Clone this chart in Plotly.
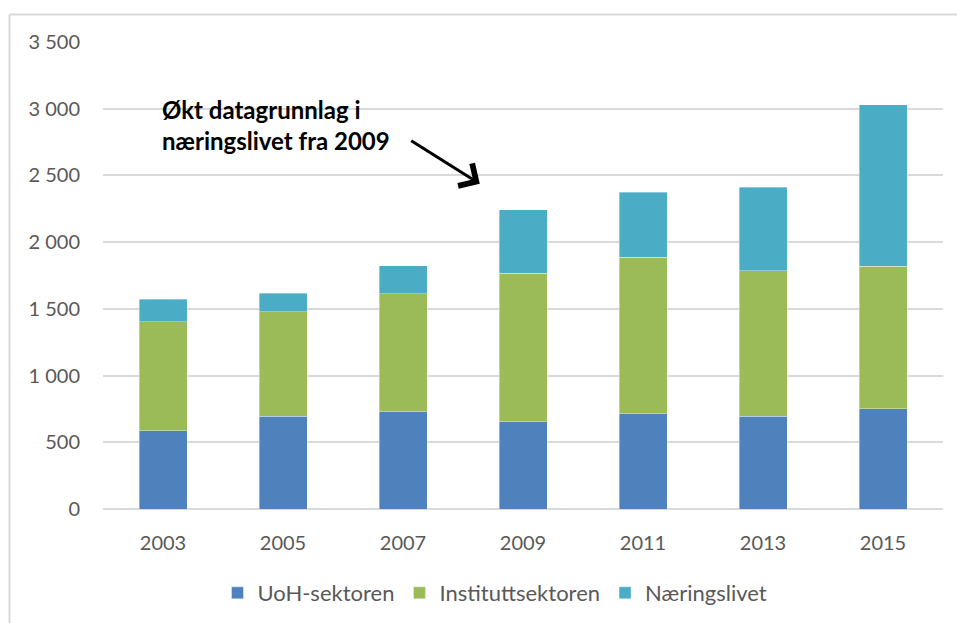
import plotly.graph_objects as go

# Survey years and the three sectors (stacked)
years = ["2003", "2005", "2007", "2009", "2011", "2013", "2015"]
uoh = [587, 695, 730, 655, 715, 695, 750]
institutt = [818, 785, 882, 1113, 1173, 1090, 1068]
naering = [168, 138, 211, 475, 487, 628, 1212]

y_ticks = [0, 500, 1000, 1500, 2000, 2500, 3000, 3500]
y_tick_text = ["0", "500", "1 000", "1 500", "2 000", "2 500", "3 000", "3 500"]

W, H = 957, 623
ML, MR, MT, MB = 103, 14, 42, 114

fig = go.Figure()
series = [
    ("UoH-sektoren", uoh, "#4F81BD"),
    ("Instituttsektoren", institutt, "#9BBB59"),
    ("Næringslivet", naering, "#4BACC6"),
]
for name, vals, color in series:
    fig.add_trace(go.Bar(
        x=years, y=vals, name=name,
        marker=dict(color=color, line=dict(color="rgba(255,255,255,0.6)", width=0.6)),
        width=0.4,
    ))

font_family = "Lato, 'Open Sans', sans-serif"

# Callout text and arrow pointing at the 2009 bar
fig.add_annotation(
    x=(160 - ML) / (W - ML - MR), xref="paper", xanchor="left",
    y=2880, yref="y", yanchor="middle",
    text="<b>Økt datagrunnlag i<br>næringslivet fra 2009</b>",
    showarrow=False, align="left",
    font=dict(family=font_family, size=24, color="#000000"),
)
fig.add_annotation(
    x=2.64, xref="x", y=2437, yref="y",
    ax=-70, ay=-44, axref="pixel", ayref="pixel",
    showarrow=True, arrowhead=4, arrowsize=1.7, arrowwidth=3, arrowcolor="#000000",
    text="",
)

# Chart frame (top and left edges)
fx0 = (9.5 - ML) / (W - ML - MR)
fx1 = (W + 5 - ML) / (W - ML - MR)
fy_top = (H - MB - 14.5) / (H - MT - MB)
fy_bot = (H - MB - H - 5) / (H - MT - MB)
fig.add_shape(type="line", xref="paper", yref="paper",
              x0=fx0, x1=fx1, y0=fy_top, y1=fy_top,
              line=dict(color="#d9d9d9", width=2))
fig.add_shape(type="line", xref="paper", yref="paper",
              x0=fx0, x1=fx0, y0=fy_top, y1=fy_bot,
              line=dict(color="#d9d9d9", width=2))

fig.update_layout(
    width=W, height=H,
    margin=dict(l=ML, r=MR, t=MT, b=MB, pad=0, autoexpand=False),
    barmode="stack",
    paper_bgcolor="white", plot_bgcolor="white",
    font=dict(family=font_family, size=20, color="#595959"),
    showlegend=True,
    legend=dict(
        orientation="h",
        xref="container", x=495 / W, xanchor="center",
        yref="container", y=1 - 593 / H, yanchor="middle",
        font=dict(size=22, color="#595959"),
        itemwidth=30, traceorder="normal",
    ),
    xaxis=dict(
        type="category", showgrid=False, showline=False, ticks="",
        ticklabelstandoff=20,
        tickfont=dict(size=20, color="#595959"),
    ),
    yaxis=dict(
        range=[0, 3500], tickvals=y_ticks, ticktext=y_tick_text,
        showgrid=True, gridcolor="#d9d9d9", gridwidth=1.5,
        zeroline=True, zerolinecolor="#d9d9d9", zerolinewidth=1.5,
        showline=False, ticks="", ticklabelstandoff=22,
        tickfont=dict(size=20, color="#595959"),
    ),
)

fig.write_html("out.html")
